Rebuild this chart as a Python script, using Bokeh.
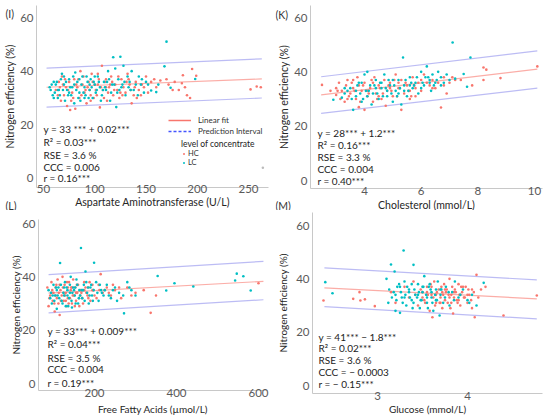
from bokeh.plotting import figure
from bokeh.layouts import gridplot
from bokeh.models import Label, Legend, LegendItem, Range1d, FixedTicker
from bokeh.embed import file_html
from bokeh.resources import INLINE

FONT = "Lato"
HC_COLOR = "#F8766D"
LC_COLOR = "#00BFC4"
FIT_COLOR = "#F8766D"
PI_COLOR = "#B0B0F2"

# ---------------- Panel I: Aspartate Aminotransferase ----------------
ast_hc_x = [62, 65, 67, 68, 70, 72, 73, 75, 76, 78, 80, 81, 83, 85, 86, 88, 90, 92, 94, 95, 97, 99, 100, 102,
            104, 105, 107, 108, 110, 112, 114, 116, 118, 120, 122, 124, 126, 128, 130, 132, 134, 136, 138, 140,
            143, 146, 150, 155, 160, 164, 172, 178, 185, 186, 188, 190, 193, 195, 199, 252, 258, 262,
            64, 69, 74, 79, 84, 87, 89, 93, 96, 98, 101, 103, 106, 109, 111, 113, 115, 119, 123, 127, 131,
            135, 141, 148, 152, 170, 182,
            66, 71, 77, 82, 91, 96, 103, 111, 117, 125, 133, 139, 145, 158, 176]
ast_hc_y = [33, 36, 29, 38, 31, 34, 27, 36, 25.5, 32, 37, 26, 34, 30, 40, 35, 32, 28, 36, 33, 39, 30, 35, 31,
            37, 26.5, 42, 33, 36, 29, 34, 38, 31, 35, 33, 30, 37, 34, 32, 39, 35, 28, 31, 36,
            33, 35, 38, 36, 34, 36.5, 35, 36, 35.5, 38.5, 34, 31, 30, 40.8, 38.3, 33.2, 34.3, 34,
            31, 35, 33, 30, 37, 31, 38, 34, 29, 36, 33, 39, 34, 30, 37, 32, 35, 33, 38, 31, 36,
            33, 30, 34, 32, 37, 33,
            34, 37, 29, 35, 33, 31, 35, 34, 36, 32, 37, 34, 31, 37, 33]
ast_lc_x = [56, 58, 60, 61, 63, 65, 66, 68, 70, 71, 73, 75, 77, 78, 80, 81, 83, 85, 86, 88, 90, 91, 93, 95,
            96, 98, 100, 101, 103, 105, 107, 109, 111, 113, 115, 117, 118, 120, 121, 123, 125, 126, 128, 130,
            132, 134, 136, 138, 140, 143, 145, 148, 152, 155, 160, 162, 168, 170, 174, 198,
            57, 59, 62, 64, 67, 69, 72, 74, 76, 79, 82, 84, 87, 89, 92, 94, 97, 99, 102, 104, 106, 110,
            114, 116, 119, 124, 129, 133, 142, 150,
            60, 64, 70, 75, 80, 85, 90, 95, 100, 108, 112, 122, 127, 135, 146]
ast_lc_y = [34, 35, 30, 32, 36, 33, 31, 39, 35, 29, 33, 37, 31, 34, 28, 39.5, 36, 32, 29, 38, 34, 31, 36, 33,
            37, 30, 35, 32, 38, 34, 31, 36, 33, 40, 29, 35, 45.2, 41, 26.6, 37, 45.4, 34, 42, 31,
            38, 36, 40, 33, 35, 38, 35, 32, 35, 32.8, 32.2, 35, 41.8, 51, 33.8, 37.1,
            33, 31, 35, 30, 37, 33, 36, 31, 34, 38, 33, 30, 35, 32, 38, 30, 34, 36, 33, 36, 29, 34,
            37, 32, 35, 33, 36, 34, 31, 36,
            36, 33, 38, 32, 35, 37, 30, 35, 38, 33, 36, 32, 35, 33, 37]
ast_na_x = [264]
ast_na_y = [4]
ast_fit_x = [53, 263]
ast_fit_y = [34.0, 37.1]
ast_pi_up = [41.1, 44.6]
ast_pi_lo = [26.6, 30.0]

# ---------------- Panel K: Cholesterol ----------------
chol_hc_x = [2.5, 2.8, 3.0, 3.1, 3.2, 3.3, 3.4, 3.5, 3.6, 3.7, 3.75, 3.8, 3.9, 4.0, 4.0, 4.1, 4.2, 4.3, 4.35,
             4.4, 4.5, 4.6, 4.7, 4.75, 4.8, 4.9, 5.0, 5.1, 5.2, 5.3, 5.3, 5.4, 5.5, 5.6, 5.7, 5.8, 5.9, 6.0,
             6.1, 6.3, 6.4, 6.6, 6.7, 6.8, 6.9, 7.0, 7.2, 7.8, 8.2, 8.2, 8.3, 8.8, 10.1,
             3.05, 3.15, 3.35, 3.45, 3.55, 3.65, 3.85, 3.95, 4.15, 4.25, 4.45, 4.55, 4.65, 4.85, 4.95, 5.05,
             5.15, 5.25, 5.45, 5.55, 5.65, 5.75, 6.2, 6.5, 7.4,
             3.0, 3.4, 3.8, 4.1, 4.5, 4.9, 5.2, 5.6, 6.0, 6.4, 6.8, 3.6, 4.3, 5.8, 7.1]
chol_hc_y = [35.2, 33, 31.5, 36, 33, 29, 37, 32, 34, 30, 38, 27, 33, 36, 26, 31, 34, 29, 38,
             32, 35, 30, 37, 27.5, 33, 36, 31, 39, 34, 26, 37, 32, 35, 30, 38, 34, 36, 33,
             39, 35, 37, 36, 26.9, 38, 32, 36, 37, 35, 37, 41.6, 40.8, 37.7, 42,
             33, 30, 35, 31, 36, 33, 29, 35, 32, 37, 30, 34, 32, 35, 33, 37,
             31, 34, 36, 33, 31, 35, 36, 34, 37,
             34, 30, 35, 33, 31, 34, 36, 33, 37, 34, 35, 37, 36, 31, 38]
chol_lc_x = [2.9, 3.2, 3.3, 3.5, 3.6, 3.7, 3.8, 3.9, 4.0, 4.05, 4.1, 4.2, 4.25, 4.3, 4.4, 4.5, 4.6, 4.7, 4.8,
             4.9, 5.0, 5.1, 5.2, 5.3, 5.36, 5.4, 5.5, 5.6, 5.7, 5.8, 5.9, 6.0, 6.1, 6.2, 6.3, 6.35, 6.4, 6.5,
             6.6, 6.7, 6.8, 7.0, 7.11, 7.2, 7.5, 7.62, 7.74,
             3.4, 3.55, 3.75, 3.85, 3.95, 4.15, 4.35, 4.45, 4.55, 4.65, 4.75, 4.85, 4.95, 5.05, 5.15, 5.25,
             5.45, 5.55, 5.65, 5.75, 5.85, 6.05, 6.25, 6.45, 6.55, 6.9,
             3.3, 3.7, 4.1, 4.4, 4.8, 5.2, 5.6, 6.0, 6.3, 6.7, 3.9, 4.6, 5.0, 5.4, 6.15]
chol_lc_y = [29.7, 30.5, 32, 34, 26, 31, 36, 29, 39, 33, 40, 35, 28, 32, 37, 30, 34, 39, 31,
             35, 29, 33, 37, 28, 45.3, 35, 31, 38, 34, 36, 32, 40, 35, 42, 37, 33, 39, 36,
             40, 38, 36, 37, 50.8, 37.5, 39.2, 34.5, 45.3,
             33, 30, 35, 32, 30, 33, 35, 32, 36, 31, 34, 37, 32, 35, 31, 34,
             37, 33, 36, 35, 38, 36, 38, 35, 37, 39,
             34, 33, 31, 34, 33, 32, 35, 34, 36, 35, 36, 36, 37, 33, 38]
chol_fit_x = [2.47, 10.1]
chol_fit_y = [31.5, 41.0]
chol_pi_up = [38.2, 47.7]
chol_pi_lo = [24.7, 34.0]

# ---------------- Panel L: Free Fatty Acids ----------------
ffa_hc_x = [85, 88, 92, 95, 98, 100, 103, 105, 108, 110, 112, 115, 117, 120, 122, 125, 127, 130, 132, 135,
            138, 140, 142, 145, 148, 150, 153, 155, 158, 160, 163, 166, 170, 175, 180, 185, 190, 195, 200,
            210, 215, 220, 230, 240, 250, 265, 280, 300, 320, 337, 350, 600,
            90, 97, 102, 107, 113, 118, 123, 128, 133, 137, 143, 147, 152, 157, 162, 168, 172, 178, 183,
            188, 197, 205, 225, 245, 290,
            95, 105, 115, 125, 135, 145, 155, 165, 175, 185, 195, 212, 235, 260, 130]
ffa_hc_y = [36, 29, 33, 38, 31, 34, 27, 36, 32, 39, 30, 25.7, 35, 33, 40, 31, 37, 34, 29, 36,
            38, 32, 35, 30, 39, 33, 36, 31, 34, 37, 29, 35, 32, 38, 34, 36, 31, 35, 33,
            37, 41, 34, 36, 33, 35, 32, 36, 34, 35, 26.5, 33, 37.6,
            32, 35, 30, 37, 34, 31, 36, 33, 38, 30, 36, 33, 29, 37, 32, 34, 30, 36, 33,
            38, 35, 32, 35, 37, 33,
            34, 33, 37, 34, 32, 36, 34, 33, 35, 32, 37, 35, 34, 36, 31]
ffa_lc_x = [88, 92, 96, 100, 104, 108, 112, 116, 120, 124, 128, 130, 134, 138, 142, 145, 148, 152, 156, 160,
            163, 167, 170, 174, 178, 182, 186, 190, 194, 199, 204, 210, 216, 222, 230, 240, 250, 260, 272,
            280, 290, 300, 354, 375, 395, 441, 543, 547, 563, 581,
            94, 102, 106, 110, 118, 122, 126, 132, 136, 140, 144, 150, 154, 158, 165, 172, 176, 180, 188,
            192, 198, 207, 213, 225, 235, 255, 285,
            98, 108, 114, 126, 134, 146, 153, 162, 169, 184, 196, 218, 245, 270, 140]
ffa_lc_y = [35, 32, 30, 37, 33, 28, 36, 45.2, 31, 34, 38, 29, 35, 32, 40, 28.5, 36, 33, 39, 30,
            35, 50.8, 32, 37, 42, 34, 30, 36, 33, 45.3, 38, 31, 35, 33, 37, 32, 36, 34, 26.3,
            38, 35, 33, 40.3, 34.9, 37.6, 36.4, 38.6, 41.2, 40.2, 34.9,
            34, 31, 36, 33, 37, 30, 33, 36, 29, 34, 31, 35, 30, 37, 33, 35, 31, 38, 33,
            37, 35, 34, 37, 35, 33, 31, 36,
            33, 35, 32, 36, 33, 34, 36, 32, 35, 36, 31, 34, 35, 33, 37]
ffa_fit_x = [88, 612]
ffa_fit_y = [33.9, 38.3]
ffa_pi_up = [40.8, 45.8]
ffa_pi_lo = [26.5, 31.4]

# ---------------- Panel M: Glucose ----------------
glu_hc_x = [2.4, 2.73, 2.8, 2.81, 2.86, 2.97, 3.15, 3.2, 3.3, 3.35, 3.4, 3.45, 3.5, 3.52, 3.55, 3.58, 3.6, 3.61,
            3.63, 3.65, 3.68, 3.7, 3.72, 3.74, 3.76, 3.78, 3.8, 3.82, 3.84, 3.86, 3.88, 3.9, 3.92, 3.94, 3.96,
            3.98, 4.0, 4.02, 4.05, 4.08, 4.1, 4.12, 4.15, 4.2, 4.4, 4.77,
            3.42, 3.48, 3.53, 3.56, 3.59, 3.62, 3.66, 3.69, 3.71, 3.73, 3.75, 3.77, 3.79, 3.81, 3.83, 3.85,
            3.87, 3.89, 3.91, 3.93, 3.97, 4.01, 4.04, 4.07, 3.64,
            3.5, 3.55, 3.6, 3.65, 3.7, 3.75, 3.8, 3.85, 3.9, 3.95, 4.0, 4.05, 3.72, 3.82, 3.92]
glu_hc_y = [31.9, 32.5, 35, 31.9, 32.3, 29.75, 35, 31, 37, 33, 39, 30, 35, 32, 37, 28, 34, 25.6,
            39, 31, 36, 33, 29, 38, 35, 31, 40, 34, 27, 36, 32, 38, 30, 35, 33,
            37, 31, 34, 29, 25.6, 41.5, 33, 36, 37, 26.25, 33.75,
            34, 36, 31, 34, 38, 33, 35, 31, 37, 34, 32, 36, 34, 29, 37, 33,
            35, 31, 34, 37, 33, 36, 32, 35, 30,
            33, 35, 37, 34, 31, 36, 33, 35, 32, 37, 34, 36, 35, 31, 34]
glu_lc_x = [2.42, 2.5, 3.1, 3.12, 3.15, 3.18, 3.19, 3.2, 3.22, 3.25, 3.27, 3.29, 3.3, 3.32, 3.35, 3.38, 3.4,
            3.42, 3.45, 3.47, 3.5, 3.52, 3.55, 3.57, 3.6, 3.62, 3.65, 3.67, 3.69, 3.7, 3.73, 3.76, 3.8, 3.83,
            3.86, 3.9, 3.95, 4.0, 4.05, 4.1, 4.18,
            3.13, 3.16, 3.21, 3.24, 3.26, 3.31, 3.33, 3.36, 3.39, 3.41, 3.44, 3.46, 3.49, 3.51, 3.54, 3.56,
            3.59, 3.61, 3.64, 3.66, 3.71, 3.75, 3.79, 3.85, 3.92, 4.02,
            3.2, 3.25, 3.3, 3.35, 3.4, 3.45, 3.5, 3.55, 3.6, 3.65, 3.7, 3.28, 3.38, 3.48, 3.58]
glu_lc_y = [38.75, 34.6, 40, 31, 45.4, 35, 42.75, 28, 37, 27.25, 33, 50.6, 39, 30, 36, 32, 45.25,
            34, 38, 29, 35, 41, 31, 37, 33, 28, 36, 39, 26.25, 34, 31, 37, 30, 35,
            39, 33, 36, 32, 34, 30, 38.5,
            36, 33, 32, 38, 35, 34, 37, 33, 29, 36, 33, 35, 32, 37, 34, 29,
            36, 31, 34, 32, 36, 33, 35, 32, 34, 31,
            34, 37, 33, 35, 31, 34, 37, 33, 35, 32, 36, 31, 38, 32, 38]
glu_fit_x = [2.41, 4.77]
glu_fit_y = [36.6, 32.5]
glu_pi_up = [44.1, 39.6]
glu_pi_lo = [29.6, 25.0]

y_ticks = [0, 20, 40, 60]
ast_ticks = [50, 100, 150, 200, 250]
chol_ticks = [4, 6, 8, 10]
ffa_ticks = [200, 400, 600]
glu_ticks = [3, 4]

y_title = "Nitrogen efficiency (%)"
ast_title = "Aspartate Aminotransferase (U/L)"
chol_title = "Cholesterol (mmol/L)"
ffa_title = "Free Fatty Acids (\u00b5mol/L)"
glu_title = "Glucose (mmol/L)"

ast_stats = ["y = 33 *** + 0.02***", "R\u00b2 = 0.03***", "RSE = 3.6 %", "CCC = 0.006", "r = 0.16***"]
chol_stats = ["y = 28*** + 1.2***", "R\u00b2 = 0.16***", "RSE = 3.3 %", "CCC = 0.004", "r = 0.40***"]
ffa_stats = ["y = 33*** + 0.009***", "R\u00b2 = 0.04***", "RSE = 3.5 %", "CCC = 0.004", "r = 0.19***"]
glu_stats = ["y = 41*** \u2212 1.8***", "R\u00b2 = 0.02***", "RSE = 3.6 %", "CCC = \u2212 0.0003", "r = \u2212 0.15***"]

W, H = 275, 210


def make_panel(xr, yr, x_axis_at, y_axis_at, x_bounds_end, y_bounds_end, ticks, xlabel,
               hc_x, hc_y, lc_x, lc_y, fit_x, fit_y, pi_up, pi_lo,
               title_size, x_title_standoff, y_title_standoff):
    # The frame fills the whole canvas; the axes are drawn at fixed positions inside it.
    p = figure(width=W, height=H, x_range=Range1d(*xr), y_range=Range1d(*yr),
               output_backend="svg", toolbar_location=None,
               min_border_left=0, min_border_right=0, min_border_top=0, min_border_bottom=0)
    p.title.visible = False
    p.outline_line_color = None
    p.grid.visible = False
    p.background_fill_color = "white"
    for ax in (p.xaxis[0], p.yaxis[0]):
        ax.axis_line_color = "#c8c8c8"
        ax.axis_line_width = 1
        ax.major_tick_line_color = None
        ax.minor_tick_line_color = None
        ax.major_tick_out = 0
        ax.major_tick_in = 0
        ax.major_label_text_font = FONT
        ax.major_label_text_font_size = "11.5px"
        ax.major_label_text_color = "#5a5a5a"
        ax.axis_label_text_font = FONT
        ax.axis_label_text_font_size = title_size
        ax.axis_label_text_font_style = "normal"
        ax.axis_label_text_color = "#262626"
    p.xaxis.fixed_location = x_axis_at
    p.yaxis.fixed_location = y_axis_at
    p.xaxis.bounds = (y_axis_at, x_bounds_end)
    p.yaxis.bounds = (x_axis_at, y_bounds_end)
    p.xaxis.major_label_standoff = -2
    p.yaxis.major_label_standoff = 3
    p.xaxis.axis_label_standoff = x_title_standoff
    p.yaxis.axis_label_standoff = y_title_standoff
    p.xaxis.ticker = FixedTicker(ticks=ticks)
    p.yaxis.ticker = FixedTicker(ticks=y_ticks)
    p.xaxis.axis_label = xlabel
    p.yaxis.axis_label = y_title

    p.line(fit_x, pi_up, line_color=PI_COLOR, line_width=1.2, line_alpha=0.85)
    p.line(fit_x, pi_lo, line_color=PI_COLOR, line_width=1.2, line_alpha=0.85)
    p.line(fit_x, fit_y, line_color=FIT_COLOR, line_width=1.2, line_alpha=0.6)
    p.scatter(hc_x, hc_y, size=2.6, marker="circle", fill_color=HC_COLOR, line_color=None)
    p.scatter(lc_x, lc_y, size=2.6, marker="circle", fill_color=LC_COLOR, line_color=None)
    return p


def add_text(p, x, y, txt, size="10px", color="#222222"):
    p.add_layout(Label(x=x, y=y, x_units="screen", y_units="screen", text=txt,
                       text_font=FONT, text_font_size=size, text_color=color,
                       text_baseline="middle", text_align="left"))


# four 275x210 canvases filling the 550x420 page
p1 = make_panel((8.05, 276.34), (-11.93, 66.34), -3.354, 43.17, 269.5, 64.47, ast_ticks, ast_title,
                ast_hc_x, ast_hc_y, ast_lc_x, ast_lc_y, ast_fit_x, ast_fit_y, ast_pi_up, ast_pi_lo,
                "10.5px", -1, 1)
p1.scatter(ast_na_x, ast_na_y, size=2.5, marker="circle", fill_color="#bbbbbb", line_color=None)
p2 = make_panel((0.859, 10.565), (-11.04, 66.26), -2.945, 2.094, 10.282, 64.42, chol_ticks, chol_title,
                chol_hc_x, chol_hc_y, chol_lc_x, chol_lc_y, chol_fit_x, chol_fit_y, chol_pi_up, chol_pi_lo,
                "10.5px", 1, 1)
p3 = make_panel((-29.27, 641.46), (-13.875, 64.875), -2.625, 63.41, 621.95, 61.5, ffa_ticks, ffa_title,
                ffa_hc_x, ffa_hc_y, ffa_lc_x, ffa_lc_y, ffa_fit_x, ffa_fit_y, ffa_pi_up, ffa_pi_lo,
                "10px", 3, -3)
p4 = make_panel((1.8667, 4.9222), (-13.125, 65.625), -3.0, 2.2778, 4.8333, 64.875, glu_ticks, glu_title,
                glu_hc_x, glu_hc_y, glu_lc_x, glu_lc_y, glu_fit_x, glu_fit_y, glu_pi_up, glu_pi_lo,
                "10px", 0, 4)

# panel letters (screen position from canvas bottom-left)
add_text(p1, 5, 197, "(I)", size="10.5px", color="#333333")
add_text(p1, 5, 5, "(L)", size="10.5px", color="#333333")
add_text(p2, 0, 196, "(K)", size="10.5px", color="#333333")
add_text(p2, 0, 5, "(M)", size="10.5px", color="#333333")

# statistics text
for p, stats, x0, y0s in [(p1, ast_stats, 43, [82, 69, 56, 44, 33]),
                          (p2, chol_stats, 42, [78, 66, 54, 42, 30]),
                          (p3, ffa_stats, 47, [90, 77, 63, 52, 38]),
                          (p4, glu_stats, 43, [84, 73, 61, 49, 37])]:
    for txt, yy in zip(stats, y0s):
        add_text(p, x0, yy, txt)

# legend in panel I (legend-only renderers placed outside the visible range)
r_fit = p1.line([1000, 1001], [1000, 1001], line_color=FIT_COLOR, line_width=1.5)
r_pi = p1.line([1000, 1001], [1000, 1001], line_color="#4455ff", line_width=1.5, line_dash="3 2")
r_hc = p1.scatter([1000], [1000], marker="circle", size=3.5, fill_color=HC_COLOR, line_color=None)
r_lc = p1.scatter([1000], [1000], marker="circle", size=3.5, fill_color=LC_COLOR, line_color=None)
leg1 = Legend(items=[LegendItem(label="Linear fit", renderers=[r_fit]),
                     LegendItem(label="Prediction Interval", renderers=[r_pi])],
              location=(168, 74))
leg2 = Legend(items=[LegendItem(label="HC", renderers=[r_hc]),
                     LegendItem(label="LC", renderers=[r_lc])],
              title="level of concentrate", location=(181, 43))
for lg in (leg1, leg2):
    lg.background_fill_alpha = 0
    lg.border_line_color = None
    lg.padding = 0
    lg.margin = 0
    lg.spacing = 0
    lg.label_text_font = FONT
    lg.label_text_font_size = "8px"
    lg.label_text_color = "#333333"
    lg.title_text_font = FONT
    lg.title_text_font_size = "8.5px"
    lg.title_text_font_style = "normal"
    lg.title_text_color = "#222222"
    lg.title_standoff = 0
leg1.label_height = 10
leg1.glyph_height = 10
leg1.glyph_width = 23
leg1.label_standoff = 7
leg1.spacing = 1
leg2.label_text_font_size = "7.5px"
leg2.label_height = 7
leg2.glyph_height = 7
leg2.glyph_width = 5
leg2.label_standoff = 2
p1.add_layout(leg1, "center")
p1.add_layout(leg2, "center")

grid = gridplot([[p1, p2], [p3, p4]], toolbar_location=None)
open("out.html", "w").write(file_html(grid, INLINE))
